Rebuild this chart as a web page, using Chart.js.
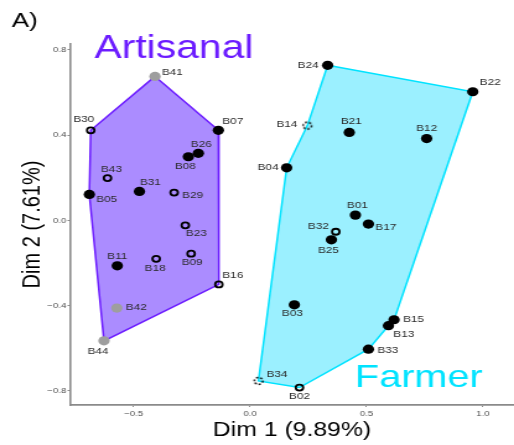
<!DOCTYPE html>
<html>
<head>
<meta charset="utf-8">
<script src="https://cdn.jsdelivr.net/npm/chart.js@4/dist/chart.umd.min.js"></script>
<style>
html,body{margin:0;padding:0;background:#fff;overflow:hidden;}
#wrap{width:415px;height:445px;transform:scaleX(1.2386);transform-origin:0 0;}
canvas{display:block;}
</style>
</head>
<body>
<div id="wrap"><canvas id="c" width="415" height="445"></canvas></div>
<script>
// ---- data ----
const sampleIds = ['B41','B30','B07','B26','B08','B43','B05','B31','B29','B23','B11','B18','B09','B16','B42','B44',
                   'B24','B22','B14','B21','B12','B04','B01','B17','B32','B25','B03','B15','B13','B33','B34','B02'];
const dim1 = [-0.408,-0.684,-0.136,-0.222,-0.265,-0.612,-0.690,-0.475,-0.326,-0.278,-0.570,-0.403,-0.253,-0.134,-0.572,-0.627,
              0.333,0.956,0.246,0.426,0.758,0.157,0.452,0.508,0.368,0.349,0.190,0.618,0.594,0.508,0.036,0.212];
const dim2 = [0.676,0.423,0.423,0.315,0.299,0.199,0.122,0.136,0.131,-0.023,-0.213,-0.180,-0.156,-0.300,-0.411,-0.565,
              0.728,0.604,0.445,0.413,0.384,0.247,0.025,-0.017,-0.053,-0.091,-0.396,-0.466,-0.494,-0.604,-0.753,-0.784];
const sampleGroup = ['Artisanal','Artisanal','Artisanal','Artisanal','Artisanal','Artisanal','Artisanal','Artisanal',
                     'Artisanal','Artisanal','Artisanal','Artisanal','Artisanal','Artisanal','Artisanal','Artisanal',
                     'Farmer','Farmer','Farmer','Farmer','Farmer','Farmer','Farmer','Farmer',
                     'Farmer','Farmer','Farmer','Farmer','Farmer','Farmer','Farmer','Farmer'];
const sampleMarker = ['grey','open','filled','filled','filled','open','filled','filled','open','open','filled','open','open','open','grey','grey',
                      'filled','filled','dashed','filled','filled','filled','filled','filled','open','filled','filled','filled','filled','filled','dashed','open'];
const artisanalHull = ['B41','B07','B16','B44','B05','B30'];
const farmerHull = ['B24','B22','B15','B13','B33','B02','B34','B04','B14'];
const groupNames = ['Artisanal','Farmer'];
const xTickValues = [-0.5, 0.0, 0.5, 1.0];
const yTickValues = [-0.8, -0.4, 0.0, 0.4, 0.8];
const xTitle = 'Dim 1 (9.89%)';
const yTitle = 'Dim 2 (7.61%)';
const panelTag = 'A)';

// ---- styles ----
const FONT = "'Liberation Sans', Arial, Helvetica, sans-serif";
const purpleLine = '#6C1CFF', purpleFill = '#AB8CFF';
const cyanLine = '#00E3FF', cyanFill = '#9BF0FF';

// label placement (internal px, style only)
const labelPlace = {
  B41:['left',5.6,-4], B30:['center',-5.6,-11], B07:['left',3.2,-9], B26:['center',2.4,-9], B08:['center',-2.4,10],
  B43:['center',3.2,-9], B05:['left',5.6,5], B31:['center',8.9,-9], B29:['left',6.5,3], B23:['center',8.9,8],
  B11:['center',0,-9], B18:['center',-0.8,10], B09:['center',0.8,9], B16:['center',11.3,-9], B42:['left',7.3,-1],
  B44:['center',-4.8,11],
  B24:['right',-7.3,0], B22:['left',5.6,-9], B14:['right',-8.1,-1], B21:['center',1.6,-11], B12:['center',0,-10],
  B04:['right',-6.5,0], B01:['center',1.6,-10], B17:['left',5.6,3], B32:['right',-5.6,-5], B25:['center',-2.4,11],
  B03:['center',-1.6,9], B15:['left',7.3,0], B13:['left',4,9], B33:['left',7.3,1], B34:['left',6.5,-7], B02:['center',0,9]
};

// dashed ring point style
const dashed = document.createElement('canvas');
dashed.width = 12; dashed.height = 12;
(function(){
  const g = dashed.getContext('2d');
  g.strokeStyle = '#000'; g.lineWidth = 1.5; g.setLineDash([1.8,1.6]);
  g.beginPath(); g.arc(6,6,3.4,0,Math.PI*2); g.stroke();
})();

const points = sampleIds.map((id,i)=>({x:dim1[i], y:dim2[i], id:id, kind:sampleMarker[i]}));
function hullData(list){
  const pts = list.map(id=>{const i = sampleIds.indexOf(id); return {x:dim1[i], y:dim2[i]};});
  pts.push(pts[0]);
  return pts;
}
const styleOf = k => k==='filled' ? {bg:'#000', bd:'#000', r:4.6, bw:0, ps:'circle'} :
                    k==='grey'   ? {bg:'#9E9E9E', bd:'#9E9E9E', r:4.6, bw:0, ps:'circle'} :
                    k==='open'   ? {bg:'rgba(0,0,0,0)', bd:'#000', r:3, bw:1.8, ps:'circle'} :
                                   {bg:'rgba(0,0,0,0)', bd:'#000', r:4, bw:0, ps:dashed};

const annot = {
  id:'annot',
  afterDatasetsDraw(chart){
    const ctx = chart.ctx;
    const meta = chart.getDatasetMeta(2);
    ctx.save();
    ctx.font = '9.5px ' + FONT;
    ctx.fillStyle = '#2b2b2b';
    ctx.textBaseline = 'middle';
    meta.data.forEach((el,i)=>{
      const id = points[i].id;
      const p = labelPlace[id] || ['left',5,0];
      ctx.textAlign = p[0];
      ctx.fillText(id, el.x + p[1], el.y + p[2]);
    });
    ctx.textAlign = 'left';
    ctx.textBaseline = 'alphabetic';
    ctx.font = '33px ' + FONT;
    ctx.fillStyle = purpleLine;
    ctx.fillText(groupNames[0], 76.2, 58);
    ctx.font = '32px ' + FONT;
    ctx.fillStyle = cyanLine;
    ctx.fillText(groupNames[1], 286.6, 386.7);
    ctx.fillStyle = '#000';
    ctx.font = '21px ' + FONT;
    ctx.fillText(panelTag, 9.4, 26.7);
    ctx.restore();
  }
};

new Chart(document.getElementById('c'), {
  type:'scatter',
  data:{
    datasets:[
      {label:groupNames[0], data:hullData(artisanalHull), showLine:true, fill:'shape', tension:0,
       borderColor:purpleLine, backgroundColor:purpleFill, borderWidth:1.5, pointRadius:0, order:3},
      {label:groupNames[1], data:hullData(farmerHull), showLine:true, fill:'shape', tension:0,
       borderColor:cyanLine, backgroundColor:cyanFill, borderWidth:1.5, pointRadius:0, order:2},
      {label:'samples', data:points, order:1,
       pointBackgroundColor:points.map(p=>styleOf(p.kind).bg),
       pointBorderColor:points.map(p=>styleOf(p.kind).bd),
       pointRadius:points.map(p=>styleOf(p.kind).r),
       pointBorderWidth:points.map(p=>styleOf(p.kind).bw),
       pointStyle:points.map(p=>styleOf(p.kind).ps)}
    ]
  },
  options:{
    responsive:false, animation:false, devicePixelRatio:1,
    layout:{autoPadding:false, padding:{top:44,left:0,right:0,bottom:0}},
    plugins:{legend:{display:false}, tooltip:{enabled:false}},
    scales:{
      x:{type:'linear', min:-0.773, max:1.133,
         afterBuildTicks:s=>{s.ticks = xTickValues.map(v=>({value:v}));},
         afterFit:s=>{s.height = 40; s.paddingLeft = 0; s.paddingRight = 0;},
         grid:{drawOnChartArea:false, drawTicks:true, tickLength:2, color:'#8a8a8a', lineWidth:1},
         border:{display:true, color:'#8a8a8a', width:1.8},
         ticks:{font:{family:FONT, size:7.8}, color:'#4d4d4d', padding:2, maxRotation:0,
                callback:v=>v.toFixed(1).replace('-','\u2212')},
         title:{display:true, text:xTitle, font:{family:FONT, size:20}, color:'#000', padding:{top:0,bottom:3}}},
      y:{type:'linear', min:-0.866, max:0.828,
         afterBuildTicks:s=>{s.ticks = yTickValues.map(v=>({value:v}));},
         afterFit:s=>{s.width = 56.5; s.paddingTop = 0; s.paddingBottom = 0;},
         grid:{drawOnChartArea:false, drawTicks:true, tickLength:2, color:'#8a8a8a', lineWidth:1},
         border:{display:true, color:'#8a8a8a', width:1.6},
         ticks:{font:{family:FONT, size:7.8}, color:'#4d4d4d', padding:1,
                callback:v=>v.toFixed(1).replace('-','\u2212')},
         title:{display:true, text:yTitle, font:{family:FONT, size:20}, color:'#000', padding:{top:14,bottom:0}}}
    }
  },
  plugins:[annot]
});
</script>
</body>
</html>
